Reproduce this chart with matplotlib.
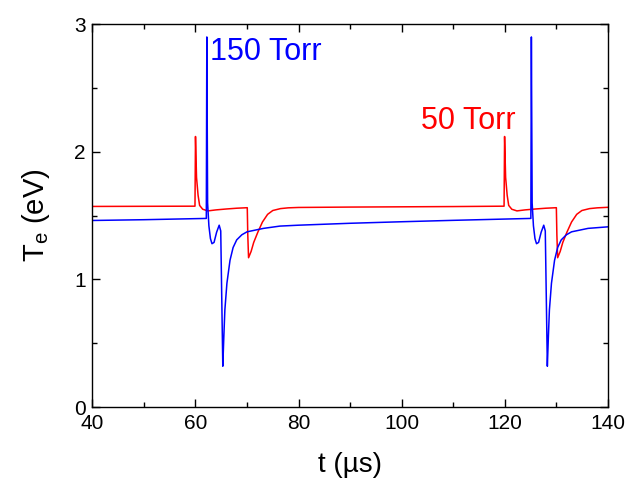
import matplotlib
matplotlib.use('Agg')
import matplotlib.pyplot as plt
from matplotlib.ticker import MultipleLocator

plt.rcParams['font.family'] = ['Liberation Sans', 'DejaVu Sans']
plt.rcParams['mathtext.fontset'] = 'custom'
plt.rcParams['mathtext.rm'] = 'Liberation Sans'
plt.rcParams['mathtext.it'] = 'Liberation Sans'

# 50 Torr (red)
t_50 = [40.0, 59.9, 60.0, 60.2, 60.5, 60.8, 61.4, 62.4, 64.0, 66.0, 68.0, 70.05,
        70.15, 70.3, 70.8, 71.3, 72.1, 73.0, 74.0, 75.0, 76.5, 78.0, 80.0, 90.0,
        100.0, 110.0, 119.9, 120.0, 120.2, 120.5, 120.8, 121.4, 122.4, 124.0,
        126.0, 128.0, 130.05, 130.15, 130.3, 130.8, 131.3, 132.1, 133.0, 134.0,
        135.0, 136.5, 138.0, 140.0]
te_50 = [1.572, 1.574, 2.12, 1.80, 1.66, 1.58, 1.55, 1.537, 1.545, 1.552, 1.558, 1.562,
         1.35, 1.17, 1.22, 1.29, 1.37, 1.45, 1.51, 1.54, 1.555, 1.561, 1.564, 1.567,
         1.569, 1.571, 1.574, 2.12, 1.80, 1.66, 1.58, 1.55, 1.537, 1.545,
         1.552, 1.558, 1.562, 1.35, 1.17, 1.22, 1.29, 1.37, 1.45, 1.51,
         1.54, 1.555, 1.561, 1.565]

# 150 Torr (blue)
t_150 = [40.0, 50.0, 62.1, 62.2, 62.35, 62.6, 62.9, 63.2, 63.6, 64.1, 64.6, 64.9,
         65.3, 65.5, 65.7, 66.1, 66.7, 67.3, 68.0, 69.0, 70.0, 73.2, 76.4, 80.0,
         90.0, 100.0, 110.0, 120.0, 125.1, 125.2, 125.35, 125.6, 125.9, 126.2,
         126.6, 127.1, 127.6, 127.9, 128.3, 128.5, 128.7, 129.1, 129.7, 130.3,
         131.0, 132.0, 133.0, 136.2, 140.0]
te_150 = [1.462, 1.468, 1.478, 2.90, 1.60, 1.42, 1.32, 1.28, 1.29, 1.37, 1.425, 1.38,
          0.32, 0.55, 0.76, 0.97, 1.15, 1.25, 1.31, 1.35, 1.373, 1.40, 1.418, 1.425,
          1.44, 1.452, 1.463, 1.473, 1.478, 2.90, 1.60, 1.42, 1.32, 1.28,
          1.29, 1.37, 1.425, 1.38, 0.32, 0.55, 0.76, 0.97, 1.15, 1.25,
          1.31, 1.35, 1.373, 1.40, 1.412]

fig = plt.figure(figsize=(6.29, 4.84), dpi=100)
ax = fig.add_axes([0.147, 0.159, 0.819, 0.791])

ax.plot(t_50, te_50, color='#ff0000', lw=1.1)
ax.plot(t_150, te_150, color='#0000ff', lw=1.1)

ax.text(62.9, 2.78, '150 Torr', color='#0000ff', fontsize=22, va='center', ha='left')
ax.text(103.8, 2.24, '50 Torr', color='#ff0000', fontsize=22, va='center', ha='left')

ax.set_xlim(40, 140)
ax.set_ylim(0, 3)
ax.xaxis.set_major_locator(MultipleLocator(20))
ax.xaxis.set_minor_locator(MultipleLocator(10))
ax.yaxis.set_major_locator(MultipleLocator(1))
ax.yaxis.set_minor_locator(MultipleLocator(0.5))
ax.tick_params(which='both', direction='in', top=True, right=True, width=1.0,
               labelsize=15, pad=5)
ax.tick_params(which='major', length=6)
ax.tick_params(which='minor', length=3.5)
for s in ax.spines.values():
    s.set_linewidth(1.0)

ax.set_xlabel('t (µs)', fontsize=20, labelpad=14)
ax.set_ylabel(r'T$_{\rm e}$ (eV)', fontsize=21, labelpad=16)

fig.savefig('out.png', dpi=100)
